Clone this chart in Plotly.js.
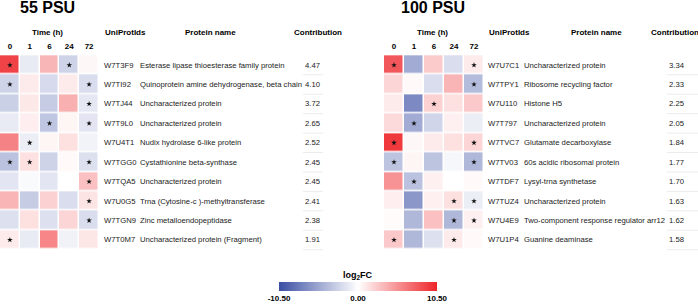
<!DOCTYPE html>
<html><head><meta charset="utf-8">
<script src="https://cdn.plot.ly/plotly-3.0.1.min.js"></script>
<style>html,body{margin:0;padding:0;background:#fff}#chart{width:698px;height:304px}</style>
</head><body><div id="chart"></div>
<script>
const times = ['0','1','6','24','72'];

const ids55 = ['W7T3F9','W7TI92','W7TJ44','W7T9L0','W7U4T1','W7TGG0','W7TQA5','W7U0G5','W7TGN9','W7T0M7'];
const names55 = ['Esterase lipase thioesterase family protein','Quinoprotein amine dehydrogenase, beta chain','Uncharacterized protein','Uncharacterized protein','Nudix hydrolase 6-like protein','Cystathionine beta-synthase','Uncharacterized protein','Trna (Cytosine-c )-methyltransferase','Zinc metalloendopeptidase','Uncharacterized protein (Fragment)'];
const contrib55 = ['4.47','4.10','3.72','2.65','2.52','2.45','2.45','2.41','2.38','1.91'];
const fc55 = [
  [9.0,-1.2,3.5,-2.6,0.4],
  [-2.6,1.0,-2.2,1.0,-2.0],
  [-2.8,1.1,-3.0,3.8,-1.4],
  [-1.2,0.8,-3.4,0.5,-1.5],
  [6.0,-1.0,0.5,1.5,-0.7],
  [-3.6,1.5,-2.6,0.3,-1.8],
  [-1.5,-0.3,-1.5,0.0,3.0],
  [3.6,-3.0,2.2,-2.0,1.3],
  [-1.8,1.5,-1.8,2.0,-2.0],
  [1.0,-1.2,5.8,-0.8,1.2]
];
const sig55 = [
  [1,0,0,1,0],
  [1,0,0,0,1],
  [0,0,0,0,1],
  [0,0,1,0,1],
  [0,1,0,0,0],
  [1,1,0,0,1],
  [0,0,0,0,1],
  [0,0,0,0,1],
  [0,0,0,0,1],
  [1,0,0,0,0]
];

const ids100 = ['W7U7C1','W7TPY1','W7U110','W7T797','W7TVC7','W7TV03','W7TDF7','W7TUZ4','W7U4E9','W7U1P4'];
const names100 = ['Uncharacterized protein','Ribosome recycling factor','Histone H5','Uncharacterized protein','Glutamate decarboxylase','60s acidic ribosomal protein','Lysyl-trna synthetase','Uncharacterized protein','Two-component response regulator arr12','Guanine deaminase'];
const contrib100 = ['3.34','2.33','2.25','2.05','1.84','1.77','1.70','1.63','1.62','1.58'];
const fc100 = [
  [8.0,-5.0,2.5,-2.0,1.0],
  [2.0,0.3,-2.0,3.6,-4.0],
  [1.0,-7.0,2.2,1.5,2.6],
  [1.8,-5.0,-2.5,0.7,-1.0],
  [9.5,0.4,1.0,1.5,2.0],
  [-3.5,0.5,-3.5,-0.5,-4.2],
  [5.2,-3.6,0.7,0.0,0.3],
  [0.8,-6.2,0.7,1.5,-1.0],
  [0.2,-4.2,3.0,-4.2,0.7],
  [2.6,-4.2,-1.8,1.0,0.3]
];
const sig100 = [
  [1,0,0,0,1],
  [0,0,0,0,1],
  [0,0,1,0,0],
  [0,1,0,0,0],
  [1,0,0,0,1],
  [1,0,0,0,1],
  [0,1,0,0,0],
  [0,0,0,1,1],
  [0,0,0,1,1],
  [1,0,0,1,0]
];

const W = 698, H = 304;
const px = x => x / W;
const py = y => 1 - y / H;
const FONT = 'Liberation Sans, Arial, Helvetica, sans-serif';
const bold = (s, c) => ({family: FONT, size: s, color: c || '#000', weight: 700});
const reg = (s, c) => ({family: FONT, size: s, color: c || '#222'});

function starsTrace(sig, ids, xa, ya) {
  const xs = [], ys = [];
  sig.forEach((row, i) => row.forEach((v, j) => { if (v) { xs.push(times[j]); ys.push(ids[i]); } }));
  return {type: 'scatter', mode: 'markers', x: xs, y: ys, xaxis: xa, yaxis: ya,
    marker: {symbol: 'star', size: 4.2, color: '#111', line: {width: 0}},
    hoverinfo: 'skip', showlegend: false};
}

const data = [
  {type: 'heatmap', x: times, y: ids55, z: fc55, coloraxis: 'coloraxis', xgap: 1.5, ygap: 1.5, xaxis: 'x', yaxis: 'y'},
  {type: 'heatmap', x: times, y: ids100, z: fc100, coloraxis: 'coloraxis', xgap: 1.5, ygap: 1.5, xaxis: 'x2', yaxis: 'y2'},
  starsTrace(sig55, ids55, 'x', 'y'),
  starsTrace(sig100, ids100, 'x2', 'y2')
];

const rowTop = 52, rowBot = 253;
const xaxisBase = {type: 'category', side: 'top', showgrid: false, zeroline: false, showline: false, ticks: '',
  tickfont: bold(8), fixedrange: true};
const yaxisBase = {type: 'category', autorange: 'reversed', showticklabels: false, showgrid: false, zeroline: false,
  showline: false, ticks: '', fixedrange: true, domain: [py(rowBot), py(rowTop)]};

const annotations = [];
const shapes = [];
function panel(title, titleX, timeX, ids, names, contrib, ya, idX, nameX, contX, hdrIdX, hdrNameX, hdrContX, lineX0, lineX1) {
  annotations.push({xref: 'paper', yref: 'paper', x: px(titleX), y: py(8), text: title, showarrow: false,
    xanchor: 'center', yanchor: 'middle', font: bold(16)});
  annotations.push({xref: 'paper', yref: 'paper', x: px(timeX), y: py(32), text: 'Time (h)', showarrow: false,
    xanchor: 'center', yanchor: 'middle', font: bold(8)});
  annotations.push({xref: 'paper', yref: 'paper', x: px(hdrIdX), y: py(32), text: 'UniProtIds', showarrow: false,
    xanchor: 'left', yanchor: 'middle', font: bold(8)});
  annotations.push({xref: 'paper', yref: 'paper', x: px(hdrNameX), y: py(32), text: 'Protein name', showarrow: false,
    xanchor: 'center', yanchor: 'middle', font: bold(8)});
  annotations.push({xref: 'paper', yref: 'paper', x: px(hdrContX), y: py(32), text: 'Contribution', showarrow: false,
    xanchor: 'left', yanchor: 'middle', font: bold(8)});
  ids.forEach((id, i) => {
    annotations.push({xref: 'paper', yref: ya, x: px(idX), y: id, text: id, showarrow: false, xanchor: 'left', yanchor: 'middle', font: reg(7.7)});
    annotations.push({xref: 'paper', yref: ya, x: px(nameX), y: id, text: names[i], showarrow: false, xanchor: 'left', yanchor: 'middle', font: reg(7.7)});
    annotations.push({xref: 'paper', yref: ya, x: px(contX), y: id, text: contrib[i], showarrow: false, xanchor: 'left', yanchor: 'middle', font: reg(7.7)});
    shapes.push({type: 'line', xref: 'paper', yref: ya, x0: px(lineX0), x1: px(lineX1), y0: i + 0.5, y1: i + 0.5,
      line: {color: '#ececec', width: 1}});
  });
}
panel('55 PSU', 47, 47, ids55, names55, contrib55, 'y', 102, 138, 303, 103, 210, 292, 303, 323);
panel('100 PSU', 433, 432, ids100, names100, contrib100, 'y2', 486, 522, 667, 487, 596, 649, 667, 698);

annotations.push({xref: 'paper', yref: 'paper', x: px(358), y: py(275), text: 'log<sub>2</sub>FC', showarrow: false,
  xanchor: 'center', yanchor: 'middle', font: bold(9)});

const layout = {
  width: W, height: H,
  margin: {l: 0, r: 0, t: 0, b: 0, pad: 0},
  paper_bgcolor: '#fff', plot_bgcolor: '#fff',
  font: {family: FONT},
  showlegend: false,
  xaxis: Object.assign({}, xaxisBase, {domain: [px(0), px(99)], anchor: 'y'}),
  yaxis: Object.assign({}, yaxisBase, {anchor: 'x'}),
  xaxis2: Object.assign({}, xaxisBase, {domain: [px(384), px(484)], anchor: 'y2'}),
  yaxis2: Object.assign({}, yaxisBase, {anchor: 'x2'}),
  coloraxis: {
    cmin: -10.5, cmax: 10.5,
    colorscale: [[0, '#3a4ea3'], [0.5, '#ffffff'], [1, '#ee2428']],
    colorbar: {
      orientation: 'h', x: px(358), xanchor: 'center', y: py(282), yanchor: 'top',
      len: 158, lenmode: 'pixels', thickness: 9, thicknessmode: 'pixels',
      outlinewidth: 0, xpad: 0, ypad: 0, ticks: '',
      tickvals: [-10.5, 0, 10.5], ticktext: ['-10.50', '0.00', '10.50'],
      tickfont: bold(8)
    }
  },
  annotations: annotations,
  shapes: shapes
};

Plotly.newPlot('chart', data, layout, {displayModeBar: false, staticPlot: true});
</script>
</body></html>
